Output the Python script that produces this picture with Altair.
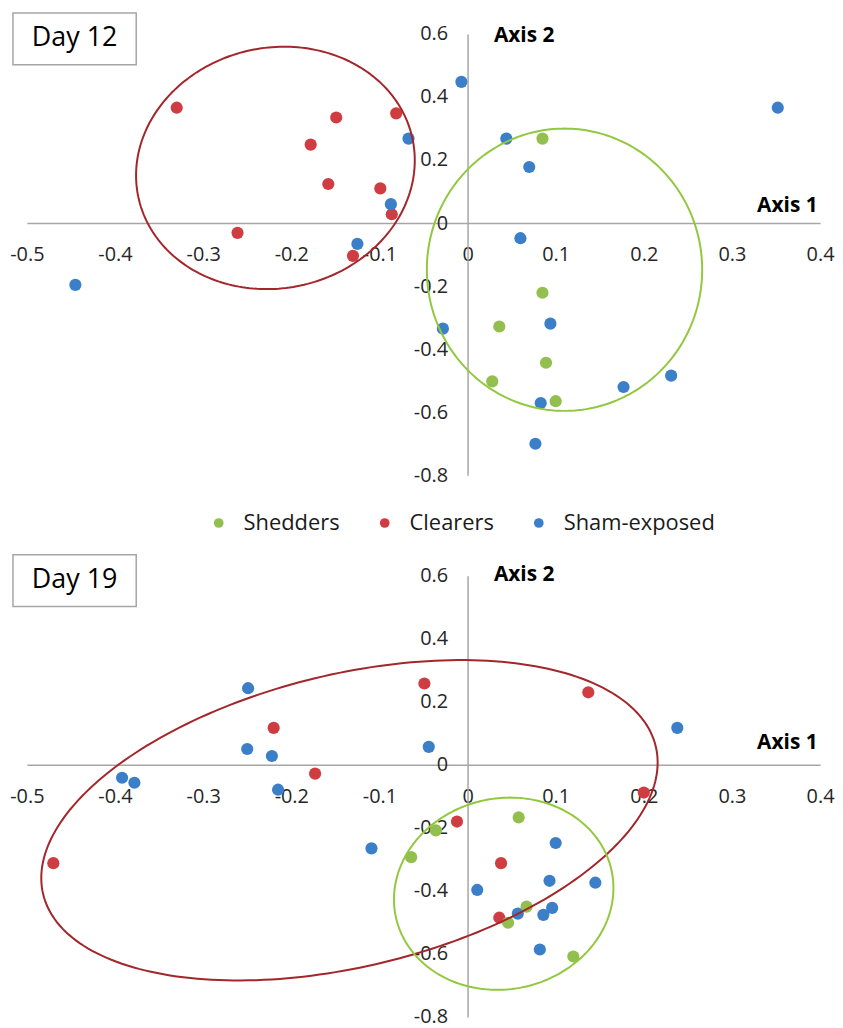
import altair as alt
import pandas as pd
import numpy as np

groups = ["Shedders", "Clearers", "Sham-exposed"]
colors = ["#93BF4F", "#CF3D42", "#3B7FC8"]
draw_order = ["Clearers", "Sham-exposed", "Shedders"]

x_ticks = [-0.5, -0.4, -0.3, -0.2, -0.1, 0, 0.1, 0.2, 0.3, 0.4]
y_ticks = [-0.8, -0.6, -0.4, -0.2, 0, 0.2, 0.4, 0.6]
panel_labels = ["Day 12", "Day 19"]

# ---- Day 12 ----
d12_shed_x = [0.085, 0.085, 0.036, 0.089, 0.028, 0.100]
d12_shed_y = [0.268, -0.221, -0.328, -0.443, -0.502, -0.565]
d12_clear_x = [-0.330, -0.149, -0.081, -0.178, -0.158, -0.099, -0.086, -0.261, -0.130]
d12_clear_y = [0.366, 0.335, 0.348, 0.249, 0.124, 0.110, 0.028, -0.031, -0.104]
d12_sham_x = [-0.067, -0.087, -0.125, -0.445, -0.007, 0.044, 0.070, 0.352, 0.060,
              -0.028, 0.094, 0.177, 0.231, 0.083, 0.077]
d12_sham_y = [0.268, 0.060, -0.066, -0.196, 0.448, 0.268, 0.178, 0.366, -0.048,
              -0.335, -0.319, -0.520, -0.484, -0.571, -0.700]

# ---- Day 19 ----
d19_shed_x = [0.058, -0.036, -0.064, 0.067, 0.046, 0.120]
d19_shed_y = [-0.167, -0.208, -0.293, -0.450, -0.501, -0.608]
d19_clear_x = [-0.220, -0.049, -0.173, 0.137, -0.470, 0.200, -0.012, 0.038, 0.036]
d19_clear_y = [0.117, 0.258, -0.028, 0.230, -0.312, -0.088, -0.180, -0.312, -0.485]
d19_sham_x = [-0.249, -0.250, -0.222, -0.392, -0.378, -0.215, -0.109, -0.044, 0.238,
              0.100, 0.093, 0.145, 0.011, 0.057, 0.086, 0.096, 0.082]
d19_sham_y = [0.243, 0.050, 0.028, -0.041, -0.057, -0.079, -0.265, 0.057, 0.117,
              -0.248, -0.368, -0.374, -0.397, -0.472, -0.476, -0.454, -0.586]

# ellipse annotations: centre (data units), semi-axes (px), rotation (deg)
d12_ell_cx = [-0.218, 0.110]
d12_ell_cy = [0.175, -0.148]
d12_ell_a = [141, 138.5]
d12_ell_b = [121, 142]
d12_ell_ang = [12, 0]
d19_ell_cx = [-0.134, 0.041]
d19_ell_cy = [-0.176, -0.409]
d19_ell_a = [317, 111]
d19_ell_b = [147, 96]
d19_ell_ang = [13.6, 12]
ell_colors = ["#A3262B", "#92C83E"]

W, H = 798, 444
XMIN, XMAX, YMIN, YMAX = -0.5, 0.4, -0.8, 0.6
SX = W / (XMAX - XMIN)
SY = H / (YMAX - YMIN)
FONT = "Open Sans"
MINUS_FIX = "replace(datum.label, '\u2212', '-')"


def points_df(sx, sy, cx, cy, hx, hy):
    rows = []
    data = {"Shedders": (sx, sy), "Clearers": (cx, cy), "Sham-exposed": (hx, hy)}
    for g in draw_order:
        xs, ys = data[g]
        for a, b in zip(xs, ys):
            rows.append({"x": a, "y": b, "group": g})
    return pd.DataFrame(rows)


def ellipse_df(cx, cy, a, b, ang):
    t = np.linspace(0, 2 * np.pi, 241)
    th = np.radians(ang)
    dx = a * np.cos(t) * np.cos(th) - b * np.sin(t) * np.sin(th)
    dy = a * np.cos(t) * np.sin(th) + b * np.sin(t) * np.cos(th)
    return pd.DataFrame({"x": cx + dx / SX, "y": cy + dy / SY, "i": np.arange(len(t))})


def panel(label, pts, ecx, ecy, ea, eb, eang, x_title_y, y_title_y):
    x_enc = alt.X(
        "x:Q",
        scale=alt.Scale(domain=[XMIN, XMAX], nice=False, zero=False),
        axis=alt.Axis(
            values=x_ticks, format=".1~f", labelExpr=MINUS_FIX, orient="bottom",
            offset=-(H * (0 - YMIN) / (YMAX - YMIN)), grid=False, ticks=False, tickSize=0,
            domainColor="#A6A6A6", domainWidth=1.5, labelPadding=22,
            labelFont=FONT, labelFontSize=20, labelColor="#262626", labelOverlap=False,
            labelBound=False, labelFlush=False,
            title="Axis 1", titleFont=FONT, titleFontSize=21, titleFontWeight="bold",
            titleColor="black", titleAnchor="end", titleAlign="right",
            titleBaseline="alphabetic", titleX=W - 3, titleY=x_title_y,
        ),
    )
    y_enc = alt.Y(
        "y:Q",
        scale=alt.Scale(domain=[YMIN, YMAX], nice=False, zero=False),
        axis=alt.Axis(
            values=y_ticks, format=".1~f", labelExpr=MINUS_FIX, orient="left",
            offset=-(W * (0 - XMIN) / (XMAX - XMIN)), grid=False, ticks=False, tickSize=0,
            domainColor="#A6A6A6", domainWidth=1.5, labelPadding=20,
            labelFont=FONT, labelFontSize=20, labelColor="#262626", labelOverlap=False,
            labelBound=False, labelFlush=False,
            title="Axis 2", titleFont=FONT, titleFontSize=21, titleFontWeight="bold",
            titleColor="black", titleAngle=0, titleAlign="left", titleBaseline="middle",
            titleX=26, titleY=y_title_y,
        ),
    )
    pts_layer = alt.Chart(pts).mark_circle(size=150, opacity=1).encode(
        x=x_enc, y=y_enc,
        color=alt.Color(
            "group:N",
            scale=alt.Scale(domain=groups, range=colors),
            legend=alt.Legend(
                orient="none", legendX=182, legendY=481, direction="horizontal",
                title=None, labelFont=FONT, labelFontSize=22, labelColor="#1a1a1a",
                symbolType="circle", symbolSize=95, symbolStrokeWidth=0,
                symbolOpacity=1, labelOffset=14, columnPadding=34,
            ),
        ),
    )
    layers = [pts_layer]
    for cx, cy, a, b, ang, col in zip(ecx, ecy, ea, eb, eang, ell_colors):
        layers.append(
            alt.Chart(ellipse_df(cx, cy, a, b, ang)).mark_line(
                color=col, strokeWidth=2
            ).encode(x=x_enc, y=y_enc, order="i:Q")
        )
    lab = pd.DataFrame({"label": [label]})
    box = alt.Chart(lab).mark_rect(
        fill="white", stroke="#A6A6A6", strokeWidth=1.5
    ).encode(x=alt.value(-14), x2=alt.value(110), y=alt.value(-21), y2=alt.value(31))
    txt = alt.Chart(lab).mark_text(
        font=FONT, fontSize=27, color="black", align="center", baseline="middle"
    ).encode(x=alt.value(48), y=alt.value(4), text="label:N")
    layers += [box, txt]
    return alt.layer(*layers).properties(width=W, height=H)


p12 = panel(panel_labels[0],
            points_df(d12_shed_x, d12_shed_y, d12_clear_x, d12_clear_y, d12_sham_x, d12_sham_y),
            d12_ell_cx, d12_ell_cy, d12_ell_a, d12_ell_b, d12_ell_ang, -12, 2)
p19 = panel(panel_labels[1],
            points_df(d19_shed_x, d19_shed_y, d19_clear_x, d19_clear_y, d19_sham_x, d19_sham_y),
            d19_ell_cx, d19_ell_cy, d19_ell_a, d19_ell_b, d19_ell_ang, -16, -1)

chart = alt.vconcat(p12, p19, spacing=101, bounds="flush").resolve_scale(
    color="shared", x="independent", y="independent"
).resolve_axis(x="independent", y="independent").properties(
    padding={"left": 1, "top": 1, "right": 0, "bottom": 0}, background="white"
).configure_view(strokeWidth=0, stroke="transparent")

chart.save("out.html", embed_options={"renderer": "svg", "actions": False})
